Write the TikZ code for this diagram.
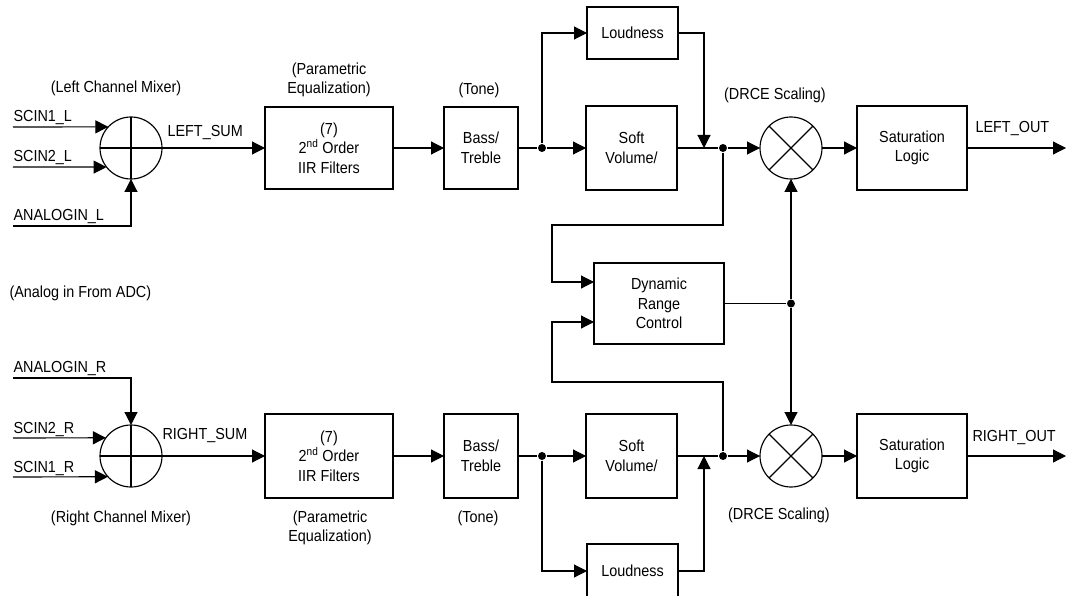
\documentclass[tikz,border=0pt]{standalone}
\usepackage{fontspec}
\setmainfont{Liberation Sans}[FakeStretch=0.9]
\usetikzlibrary{arrows.meta}
\begin{document}
\begin{tikzpicture}[x=1pt,y=-1pt,line width=1.15pt,
  font=\fontsize{16}{19.5}\selectfont,
  arr/.style={-{Triangle[length=13pt,width=13pt]}},
  blk/.style={draw,align=center,inner sep=0pt,outer sep=0pt},
  mix/.style={draw,circle,minimum size=62pt,inner sep=0pt,outer sep=0pt},
  lbl/.style={inner sep=0pt,align=center},
  sig/.style={inner sep=0pt,anchor=base west},
  dot/.style={circle,fill,inner sep=0pt,minimum size=8pt}]
\useasboundingbox (0,0) rectangle (1073,596);

% ---------- top channel ----------
\node[mix] (m1) at (131,148) {};
\draw (m1.north) -- (m1.south) (m1.west) -- (m1.east);
\node[blk,minimum width=128pt,minimum height=82pt] (f1) at (329,148) {(7)\\2\textsuperscript{nd} Order\\IIR Filters};
\node[blk,minimum width=74pt,minimum height=82pt] (t1) at (481,148) {Bass/\\Treble};
\node[dot] (d1) at (542,148) {};
\node[blk,minimum width=91pt,minimum height=52pt] (ld1) at (632.5,33) {Loudness};
\node[blk,minimum width=91pt,minimum height=84pt] (sv1) at (631.5,148) {Soft\\Volume/};
\coordinate (p1) at (704,148);
\node[dot] (d2) at (723,148) {};
\node[mix] (x1) at (791,148) {};
\draw (x1.north west) -- (x1.south east) (x1.north east) -- (x1.south west);
\node[blk,minimum width=110pt,minimum height=84pt] (s1) at (912,148) {Saturation\\Logic};
\coordinate (o1) at (1066,148);

% ---------- DRC ----------
\node[blk,minimum width=130pt,minimum height=81pt] (drc) at (659,303.5) {Dynamic\\Range\\Control};
\node[dot] (d3) at (791,303.5) {};
\coordinate (k1) at (552,225);
\coordinate (k2) at (552,382);

% ---------- bottom channel ----------
\node[mix] (m2) at (131,456) {};
\draw (m2.north) -- (m2.south) (m2.west) -- (m2.east);
\node[blk,minimum width=128pt,minimum height=84pt] (f2) at (329,456) {(7)\\2\textsuperscript{nd} Order\\IIR Filters};
\node[blk,minimum width=74pt,minimum height=84pt] (t2) at (481,456) {Bass/\\Treble};
\node[dot] (d4) at (542,456) {};
\node[blk,minimum width=91pt,minimum height=84pt] (sv2) at (631.5,456) {Soft\\Volume/};
\node[blk,minimum width=91pt,minimum height=54pt] (ld2) at (632.5,571) {Loudness};
\coordinate (p2) at (704,456);
\node[dot] (d5) at (723,456) {};
\node[mix] (x2) at (791,456) {};
\draw (x2.north west) -- (x2.south east) (x2.north east) -- (x2.south west);
\node[blk,minimum width=110pt,minimum height=84pt] (s2) at (912,456) {Saturation\\Logic};
\coordinate (o2) at (1066,456);

% ---------- inputs ----------
\coordinate (i1) at (13,127);
\coordinate (i2) at (13,167);
\coordinate (i3) at (13,226);
\coordinate (j1) at (13,378);
\coordinate (j2) at (13,438);
\coordinate (j3) at (13,477);

\node[sig] (ls1) at (13,122) {SCIN1\_L};
\node[sig] (ls2) at (13,162) {SCIN2\_L};
\node[sig] (ls3) at (13,221) {ANALOGIN\_L};
\node[sig] (rs1) at (13,372) {ANALOGIN\_R};
\node[sig] (rs2) at (13,433) {SCIN2\_R};
\node[sig] (rs3) at (13,472) {SCIN1\_R};
\node[sig] (lsum) at (167,137) {LEFT\_SUM};
\node[sig] (rsum) at (162,439) {RIGHT\_SUM};
\node[sig] (lout) at (975,133) {LEFT\_OUT};
\node[sig] (rout) at (972,441) {RIGHT\_OUT};

% ---------- annotations ----------
\node[lbl] (lcm) at (116,88) {(Left Channel Mixer)};
\node[lbl] (pe1) at (329,80) {(Parametric\\Equalization)};
\node[lbl] (tn1) at (479,90) {(Tone)};
\node[lbl] (dr1) at (775,95) {(DRCE Scaling)};
\node[lbl,anchor=west] (adc) at (9,293) {(Analog in From ADC)};
\node[lbl] (rcm) at (121,518) {(Right Channel Mixer)};
\node[lbl] (pe2) at (330,528) {(Parametric\\Equalization)};
\node[lbl] (tn2) at (478,518) {(Tone)};
\node[lbl] (dr2) at (779,515) {(DRCE Scaling)};

% ---------- connectors top ----------
\draw[arr] (i1) -- (m1.137);
\draw[arr] (i2) -- (m1.218);
\draw[arr] (i3) -| (m1.south);
\draw[arr] (m1.east) -- (f1.west);
\draw[arr] (f1.east) -- (t1.west);
\draw (t1.east) -- (d1);
\draw[arr] (d1) -- (sv1.west);
\draw[arr] (d1) |- (ld1.west);
\draw[arr] (ld1.east) -| (p1);
\draw (sv1.east) -- (d2);
\draw[arr] (d2) -- (x1.west);
\draw[arr] (x1.east) -- (s1.west);
\draw[arr] (s1.east) -- (o1);

% ---------- connectors bottom ----------
\draw[arr] (j1) -| (m2.north);
\draw[arr] (j2) -- (m2.144.5);
\draw[arr] (j3) -- (m2.222.6);
\draw[arr] (m2.east) -- (f2.west);
\draw[arr] (f2.east) -- (t2.west);
\draw (t2.east) -- (d4);
\draw[arr] (d4) -- (sv2.west);
\draw[arr] (d4) |- (ld2.west);
\draw[arr] (ld2.east) -| (p2);
\draw (sv2.east) -- (d5);
\draw[arr] (d5) -- (x2.west);
\draw[arr] (x2.east) -- (s2.west);
\draw[arr] (s2.east) -- (o2);

% ---------- DRC connectors ----------
\draw[arr] (d2) |- (k1) |- ([yshift=21.5pt]drc.west);
\draw[arr] (d5) |- (k2) |- ([yshift=-18.5pt]drc.west);
\draw (drc.east) -- (d3);
\draw[arr] (d3) -- (x1.south);
\draw[arr] (d3) -- (x2.north);
\end{tikzpicture}
\end{document}
